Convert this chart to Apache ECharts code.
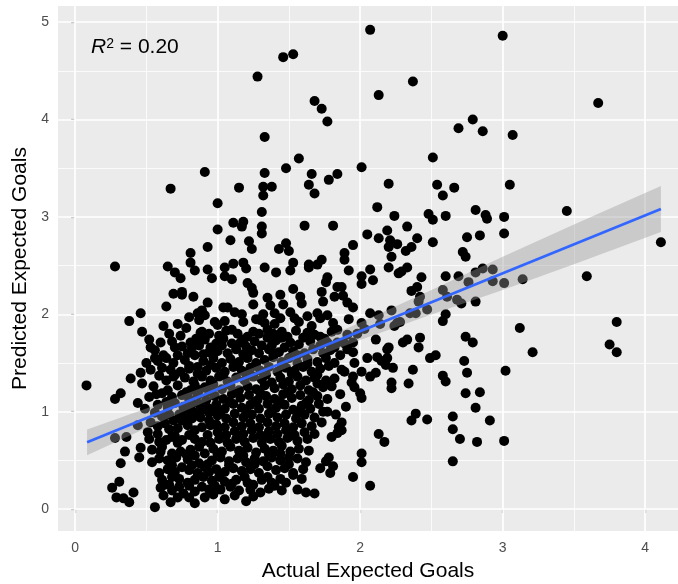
<!DOCTYPE html>
<html><head><meta charset="utf-8">
<script src="https://cdn.jsdelivr.net/npm/echarts@6/dist/echarts.min.js"></script>
<style>html,body{margin:0;padding:0;background:#fff}#c{width:678px;height:584px}</style>
</head><body><div id="c"></div>
<script>
// axis ticks
const xTicks = [0, 1, 2, 3, 4];
const yTicks = [0, 1, 2, 3, 4, 5];
const xMinor = [0.5, 1.5, 2.5, 3.5];
const yMinor = [0.5, 1.5, 2.5, 3.5, 4.5];

// [actual xG, predicted xG]
const pointsUpper = [
[2.07,4.92],[3.00,4.86],[1.53,4.67],[1.46,4.64],[1.28,4.44],[2.37,4.39],[2.13,4.25],[1.68,4.19],[1.73,4.11],[1.77,3.98],[2.79,4.00],[2.69,3.91],[2.86,3.88],[3.67,4.17],[3.07,3.84],[1.33,3.82],
[2.01,3.51],[2.51,3.61],[2.20,3.34],[2.54,3.33],[2.58,3.22],[2.66,3.30],[3.05,3.33],[2.12,3.10],[2.24,3.01],[2.48,3.03],[2.51,2.97],[2.60,3.01],[2.81,3.07],[2.88,3.02],[2.89,2.98],[3.01,3.00],[2.33,2.90],[2.19,2.86],[2.05,2.82],[2.13,2.78],[2.21,2.76],[2.26,2.72],[2.20,2.69],[2.22,2.59],[2.40,2.78],[2.36,2.69],[2.32,2.65],[2.51,2.74],[2.75,2.79],[2.84,2.81],[3.01,2.83],[1.95,2.71],[1.89,2.63],[1.89,2.56],[2.72,2.64],[2.74,2.59],
[3.45,3.06],[4.11,2.74],
[0.91,3.46],[1.33,3.45],[1.48,3.50],[1.57,3.60],[1.66,3.44],[1.78,3.38],[1.84,3.44],[1.15,3.30],[1.32,3.31],[1.38,3.31],[1.32,3.22],[1.64,3.33],[1.68,3.24],[1.00,3.14],[1.31,3.05],[1.11,2.94],[1.18,2.95],[1.17,2.90],[1.00,2.87],[1.31,2.90],[1.31,2.83],[1.61,2.91],[1.81,2.91],[1.09,2.76],[1.22,2.75],[1.24,2.67],[0.93,2.69],[1.43,2.67],[1.48,2.73],[1.50,2.65],[1.73,2.56],[1.70,2.51],[1.64,2.51],[1.53,2.53],
[0.67,3.29],[0.28,2.49],[0.65,2.49],[0.81,2.63],[0.81,2.53]
];
const pointsMiddle = [
[1.92,2.45],[2.07,2.46],[2.09,2.35],[2.01,2.39],[2.01,2.31],[2.20,2.48],[2.33,2.48],[2.29,2.44],[2.27,2.42],[2.43,2.38],[2.60,2.39],[2.69,2.39],[2.81,2.43],[2.86,2.47],[2.93,2.46],[2.76,2.33],[2.93,2.34],[3.01,2.32],[1.87,2.28],[1.88,2.19],[2.40,2.28],[2.36,2.24],[2.42,2.18],[2.41,2.13],[2.58,2.25],[2.61,2.18],[2.68,2.15],[2.71,2.11],[2.81,2.13],[1.91,2.12],[1.95,2.07],[2.22,2.04],[2.47,2.05],[2.07,2.01],[2.13,1.99],[2.14,1.90],[2.35,2.01],[2.39,2.01],[2.60,2.00],[2.58,1.93],[2.01,1.91],[2.26,1.91],[2.28,1.92],[2.24,1.88],[1.95,1.71],[1.89,1.70],[2.11,1.74],[2.20,1.66],[2.30,1.71],[2.33,1.74],[2.42,1.76],[2.41,1.66],[2.74,1.77],[2.79,1.71],
[3.14,2.36],[3.59,2.39],[3.12,1.86],[3.80,1.92],[3.21,1.61],[3.75,1.69],[3.80,1.61],
[0.93,2.46],[0.96,2.37],[1.05,2.48],[1.05,2.39],[1.10,2.36],[1.11,2.52],[1.18,2.53],[1.20,2.47],[1.33,2.48],[1.41,2.43],[1.51,2.45],[1.64,2.48],[1.77,2.38],[1.76,2.33],[1.21,2.32],[1.24,2.27],[1.25,2.22],[1.53,2.26],[1.84,2.28],[1.82,2.18],[1.44,2.20],[1.58,2.18],[1.59,2.11],[1.73,2.23],[1.74,2.13],[1.35,2.17],[1.37,2.09],[1.25,2.10],[1.46,2.10],[0.93,2.12],[0.89,2.04],[0.91,1.99],[1.04,2.07],[1.07,2.07],[1.12,2.02],[1.17,2.00],[1.18,1.92],[1.32,2.00],[1.30,1.94],[1.33,1.91],[1.40,2.01],[1.44,1.96],[1.51,2.02],[1.54,1.96],[1.63,1.98],[1.70,2.01],[1.72,1.96],[1.77,1.99],[1.81,1.91],[1.84,1.84],[0.98,1.92],[1.00,1.89],[1.10,1.84],[1.25,1.82],[1.21,1.77],[1.35,1.84],[1.35,1.76],[1.45,1.82],[1.49,1.77],[1.51,1.71],[1.60,1.76],[1.72,1.77],[1.77,1.71],[0.89,1.82],[0.91,1.74],[0.95,1.66],[1.03,1.68],[1.10,1.70],[1.16,1.71],[1.84,1.71],[1.91,1.79],
[0.70,2.43],[0.74,2.37],[0.84,2.45],[0.69,2.21],[0.75,2.23],[0.75,2.20],[0.83,2.18],[0.64,2.08],[0.46,2.01],[0.38,1.93],[0.80,1.97],[0.86,2.01],[0.87,1.94],[0.88,1.81],[0.52,1.74],[0.60,1.71],[0.53,1.66],[0.70,1.66],[0.81,1.71],[0.82,1.66]
];
const pointsLower = [
[1.95,1.61],[2.19,1.64],[2.12,1.56],[2.19,1.55],[2.18,1.48],[2.23,1.45],[2.49,1.55],[2.53,1.58],[2.37,1.43],[2.73,1.52],[2.75,1.40],[3.02,1.42],[1.87,1.43],[1.89,1.41],[1.96,1.50],[2.01,1.41],[2.11,1.40],[2.07,1.36],[2.58,1.37],[2.60,1.31],[2.34,1.29],[1.94,1.30],[1.96,1.25],[2.00,1.19],[2.01,1.14],[2.22,1.30],[2.22,1.24],[2.74,1.19],[2.84,1.20],[2.81,1.04],[2.39,0.98],[2.36,0.91],[2.47,0.92],[2.65,0.95],[2.91,0.91],[1.87,0.89],[2.13,0.77],[2.17,0.69],[2.65,0.82],[2.70,0.72],[2.82,0.69],[3.01,0.70],[2.01,0.57],[2.01,0.48],[2.65,0.49],[1.95,0.33],[2.07,0.24],
[0.08,1.27],[0.39,1.34],[0.47,1.29],[0.32,1.19],[0.28,1.13],[0.44,1.09],[0.53,1.43],[0.59,1.37],[0.67,1.43],[0.69,1.36],[0.80,1.44],[0.56,1.63],[0.56,1.55],[0.72,1.58],[0.79,1.60],[0.84,1.58],[0.87,1.68],[0.94,1.61],[0.61,1.19],[0.65,1.22],[0.68,1.15],[0.75,1.17],[0.81,1.22],[0.84,1.27],[0.87,1.22],[0.91,1.25],[0.56,0.99],[0.53,0.89],[0.44,0.86],[0.65,1.04],[0.66,0.97],[0.69,0.91],[0.70,1.09],[0.76,1.05],[0.81,1.04],[0.84,0.99],[0.89,1.02],[0.94,0.99],[0.28,0.73],[0.36,0.74],[0.35,0.59],[0.46,0.63],[0.45,0.53],[0.32,0.47],[0.54,0.48],[0.59,0.69],[0.61,0.64],[0.60,0.59],[0.68,0.74],[0.72,0.68],[0.75,0.71],[0.80,0.76],[0.68,0.57],[0.74,0.59],[0.81,0.61],[0.87,0.64],[0.91,0.57],[0.95,0.68],[0.59,0.37],[0.61,0.30],[0.68,0.33],[0.63,0.25],[0.73,0.23],[0.79,0.27],[0.84,0.30],[0.26,0.22],[0.31,0.28],[0.29,0.12],[0.34,0.11],[0.38,0.07],[0.41,0.17],[0.56,0.02],[0.67,0.07],[0.84,0.06],[0.91,0.12],[0.94,0.20],[0.89,0.23],[0.75,0.43],[0.82,0.45],[0.87,0.47],[0.91,0.43],[0.94,0.38],[0.66,0.82],[0.72,0.83],[0.79,0.86],[0.84,0.81],[0.89,0.84],[0.95,0.86],[0.75,0.91],[0.82,0.93],[0.88,0.94],[0.94,0.91],
[1.77,1.00],[1.87,0.81],[1.84,0.78],[1.80,0.74],[1.85,0.84],[1.78,0.53],[1.76,0.49],[1.72,0.42],[1.81,0.44],[1.79,0.37],[1.50,0.46],[1.53,0.37],[1.59,0.31],[1.56,0.20],[1.62,0.17],[1.68,0.16],[1.51,0.59],[1.45,0.65],[1.44,0.57],[1.76,1.32],[1.74,1.25],
[0.76,0.16],[0.60,0.22],[1.02,0.20],[1.09,0.23],[1.05,0.28],[1.23,0.20],[1.25,0.25],[1.38,0.27],[1.35,0.33],[1.53,0.35]
];
const pointsCore = [
[0.62,1.88],[0.72,1.90],[0.78,1.86],[1.05,1.93],[1.27,1.95],[1.40,1.90],[1.57,1.92],[1.66,1.88],[1.92,1.95],
[0.47,1.82],[0.66,1.80],[0.74,1.78],[0.94,1.80],[1.01,1.78],[1.06,1.83],[1.14,1.80],[1.29,1.80],[1.39,1.80],[1.55,1.83],[1.63,1.81],[1.68,1.79],[1.80,1.82],[1.98,1.80],[2.03,1.85],
[0.68,1.72],[0.99,1.70],[1.04,1.75],[1.26,1.72],[1.31,1.68],[1.41,1.73],[1.57,1.69],[1.65,1.72],[1.82,1.66],
[1.00,1.62],[1.07,1.60],[1.13,1.64],[1.18,1.59],[1.24,1.63],[1.29,1.60],[1.36,1.64],[1.43,1.61],[1.47,1.66],[1.53,1.62],[1.61,1.60],[1.67,1.64],[1.74,1.60],[1.79,1.63],[1.86,1.58],[1.91,1.64],
[0.50,1.50],[0.58,1.52],[0.64,1.55],[0.69,1.50],[0.77,1.53],[0.90,1.52],[0.97,1.55],[1.03,1.50],[1.09,1.54],[1.15,1.51],[1.21,1.55],[1.27,1.50],[1.33,1.53],[1.39,1.56],[1.45,1.51],[1.50,1.55],[1.56,1.50],[1.63,1.54],[1.70,1.51],[1.76,1.55],[1.82,1.50],[2.05,1.55],[2.15,1.52],
[0.46,1.40],[0.61,1.45],[0.74,1.41],[0.86,1.46],[0.92,1.42],[0.99,1.45],[1.05,1.41],[1.11,1.46],[1.17,1.42],[1.23,1.45],[1.30,1.42],[1.36,1.46],[1.42,1.41],[1.48,1.45],[1.54,1.42],[1.60,1.46],[1.66,1.41],[1.72,1.44],[1.78,1.47],
[0.64,1.32],[0.77,1.35],[0.83,1.31],[0.89,1.36],[0.95,1.32],[1.01,1.36],[1.07,1.31],[1.13,1.35],[1.19,1.32],[1.25,1.36],[1.31,1.33],[1.38,1.30],[1.44,1.35],[1.50,1.31],[1.56,1.36],[1.62,1.32],[1.68,1.35],[1.82,1.34],[1.95,1.36],
[0.55,1.26],[0.72,1.27],[0.97,1.28],[1.03,1.23],[1.09,1.27],[1.15,1.22],[1.21,1.26],[1.27,1.23],[1.33,1.27],[1.40,1.24],[1.46,1.28],[1.52,1.23],[1.58,1.27],[1.64,1.22],[1.70,1.29],[1.80,1.26],
[0.52,1.15],[0.57,1.18],[0.80,1.13],[0.86,1.17],[0.92,1.12],[0.98,1.16],[1.04,1.13],[1.10,1.18],[1.16,1.14],[1.22,1.17],[1.28,1.12],[1.34,1.16],[1.40,1.13],[1.46,1.18],[1.52,1.14],[1.58,1.17],[1.64,1.12],[1.70,1.16],[1.77,1.13],[1.86,1.18],
[0.49,1.03],[0.58,1.07],[0.87,1.08],[0.93,1.04],[0.99,1.07],[1.05,1.03],[1.11,1.08],[1.17,1.04],[1.23,1.07],[1.29,1.03],[1.35,1.08],[1.41,1.04],[1.47,1.07],[1.53,1.02],[1.59,1.06],[1.65,1.03],[1.71,1.08],[1.90,1.05],
[0.61,0.95],[0.73,0.97],[0.79,0.95],[1.00,0.96],[1.06,0.93],[1.12,0.98],[1.18,0.94],[1.24,0.97],[1.30,0.93],[1.36,0.98],[1.42,0.94],[1.48,0.97],[1.55,0.93],[1.61,0.97],[1.68,0.94],[1.83,0.97],
[0.58,0.85],[0.63,0.88],[0.99,0.87],[1.05,0.84],[1.11,0.89],[1.17,0.85],[1.23,0.88],[1.29,0.84],[1.35,0.89],[1.41,0.85],[1.47,0.88],[1.53,0.84],[1.59,0.88],[1.66,0.85],[1.73,0.89],
[0.51,0.79],[0.58,0.77],[1.00,0.79],[1.06,0.76],[1.12,0.80],[1.18,0.77],[1.24,0.81],[1.30,0.76],[1.36,0.80],[1.42,0.77],[1.48,0.81],[1.54,0.76],[1.61,0.79],[1.68,0.77],
[0.52,0.72],[0.64,0.71],[0.84,0.72],[0.89,0.69],[1.01,0.72],[1.07,0.68],[1.13,0.72],[1.19,0.69],[1.25,0.73],[1.31,0.68],[1.37,0.72],[1.43,0.69],[1.49,0.73],[1.56,0.70],[1.63,0.72],
[0.54,0.61],[0.97,0.62],[1.03,0.59],[1.09,0.64],[1.15,0.60],[1.21,0.63],[1.27,0.58],[1.33,0.62],[1.39,0.60],[1.57,0.62],[1.64,0.60],
[0.59,0.52],[0.65,0.50],[0.71,0.53],[0.79,0.51],[0.96,0.50],[1.02,0.53],[1.08,0.49],[1.14,0.52],[1.20,0.48],[1.26,0.52],[1.32,0.49],[1.38,0.53],[1.44,0.50],[1.56,0.52],
[0.65,0.41],[0.70,0.38],[0.80,0.40],[0.86,0.37],[0.99,0.41],[1.05,0.38],[1.11,0.42],[1.17,0.39],[1.23,0.41],[1.29,0.37],[1.41,0.40],[1.47,0.42],[1.60,0.41],
[0.73,0.31],[0.90,0.33],[0.96,0.29],[1.01,0.33],[1.13,0.30],[1.19,0.33],[1.31,0.30],[1.44,0.31],[1.48,0.27],
[0.68,0.19],[0.84,0.18],[1.15,0.19],[1.30,0.17],[1.36,0.21],[1.45,0.19],
[0.72,0.12],[1.05,0.10],[1.20,0.08]
];
// extra estimated marks where the cloud is solid black
const pointsDense = [
[0.85,1.75],[1.18,1.74],[1.45,1.76],[1.75,1.75],
[0.75,1.67],[1.20,1.67],[1.38,1.68],[1.72,1.68],
[0.62,1.58],[0.90,1.59],[1.21,1.59],[1.39,1.60],[1.56,1.58],
[0.80,1.47],[0.95,1.48],[1.14,1.47],[1.27,1.47],[1.45,1.47],[1.63,1.49],
[0.70,1.38],[0.86,1.39],[1.04,1.38],[1.20,1.39],[1.34,1.38],[1.52,1.39],[1.70,1.38],
[0.78,1.20],[0.94,1.21],[1.12,1.20],[1.30,1.19],[1.49,1.20],[1.67,1.20],
[0.64,1.10],[0.82,1.09],[1.08,1.10],[1.26,1.10],[1.44,1.10],[1.62,1.09],
[0.76,1.00],[0.96,1.01],[1.02,1.00],[1.20,1.01],[1.38,1.00],[1.56,0.99],[1.74,1.00],
[0.70,0.75],[0.93,0.76],[1.15,0.75],[1.33,0.74],[1.51,0.75],
[0.78,0.56],[0.84,0.55],[1.00,0.56],[1.18,0.55],[1.36,0.56],[1.50,0.53],
[0.68,0.45],[0.93,0.46],[1.08,0.45],[1.26,0.46],[1.35,0.44],[1.62,0.48],
[0.66,0.25],[0.80,0.24],[0.98,0.24],[1.10,0.26],[1.21,0.27],[1.40,0.24],
[0.62,0.14],[0.80,0.12],[0.97,0.15],[1.12,0.14],[1.25,0.13]
];

// linear fit and its confidence band
const fitX = [0.084, 4.11];
const fitY = [0.685, 3.08];
const bandX = [0.084, 0.5, 1.0, 1.5, 2.0, 2.5, 3.0, 3.5, 4.11];
const bandLower = [0.553, 0.833, 1.155, 1.458, 1.735, 1.998, 2.250, 2.513, 2.844];
const bandUpper = [0.817, 1.033, 1.305, 1.598, 1.915, 2.248, 2.590, 2.923, 3.316];
const r2Text = '0.20';

const FONT = 'Liberation Sans, Arial, sans-serif';
const allPoints = pointsUpper.concat(pointsMiddle, pointsLower, pointsCore, pointsDense);
const fitData = fitX.map((x, i) => [x, fitY[i]]);

const gridLines = []
  .concat(xMinor.map(v => ({ xAxis: v, lineStyle: { width: 0.8 } })))
  .concat(yMinor.map(v => ({ yAxis: v, lineStyle: { width: 0.8 } })))
  .concat(xTicks.map(v => ({ xAxis: v, lineStyle: { width: 1.7 } })))
  .concat(yTicks.map(v => ({ yAxis: v, lineStyle: { width: 1.7 } })));

const chart = echarts.init(document.getElementById('c'), null, { renderer: 'canvas' });
chart.setOption({
  animation: false,
  backgroundColor: '#ffffff',
  grid: { left: 58, right: 0, top: 6, bottom: 53, show: true, backgroundColor: '#EBEBEB', borderWidth: 0, containLabel: false, outerBoundsMode: 'none' },
  xAxis: {
    type: 'value', min: -0.12, max: 4.23,
    name: 'Actual Expected Goals', nameLocation: 'middle', nameGap: 30,
    nameTextStyle: { fontFamily: FONT, fontSize: 21, color: '#000' },
    axisLine: { show: false },
    axisTick: { show: true, length: 4, customValues: xTicks, lineStyle: { color: '#333333', width: 1.1 } },
    axisLabel: { customValues: xTicks, color: '#4D4D4D', fontSize: 14, fontFamily: FONT, margin: 10 },
    splitLine: { show: false }
  },
  yAxis: {
    type: 'value', min: -0.225, max: 5.165,
    name: 'Predicted Expected Goals', nameLocation: 'middle', nameGap: 21,
    nameTextStyle: { fontFamily: FONT, fontSize: 21, color: '#000' },
    axisLine: { show: false },
    axisTick: { show: true, length: 4, customValues: yTicks, lineStyle: { color: '#333333', width: 1.1 } },
    axisLabel: { customValues: yTicks, color: '#4D4D4D', fontSize: 14, fontFamily: FONT, margin: 9 },
    splitLine: { show: false }
  },
  graphic: [{
    type: 'text', left: 91, top: 37, z: 100,
    style: {
      text: '{i|R}{s|2}{n| = ' + r2Text + '}',
      rich: {
        i: { fontStyle: 'italic', fontSize: 21, fontFamily: FONT, fill: '#000' },
        s: { fontSize: 14, fontFamily: FONT, fill: '#000', verticalAlign: 'top' },
        n: { fontSize: 21, fontFamily: FONT, fill: '#000' }
      }
    }
  }],
  series: [
    {
      type: 'line', data: [], z: 1, silent: true,
      markLine: {
        silent: true, z: 1, symbol: ['none', 'none'], label: { show: false },
        lineStyle: { color: '#ffffff', type: 'solid', opacity: 1 },
        emphasis: { disabled: true },
        data: gridLines
      }
    },
    {
      type: 'scatter', data: allPoints, symbolSize: 10, z: 2, silent: true,
      itemStyle: { color: '#000000', opacity: 1 }
    },
    {
      type: 'custom', z: 3, silent: true, clip: true,
      data: [[bandX[0], bandLower[0]]],
      renderItem: function (params, api) {
        const pts = [];
        for (let i = 0; i < bandX.length; i++) pts.push(api.coord([bandX[i], bandUpper[i]]));
        for (let i = bandX.length - 1; i >= 0; i--) pts.push(api.coord([bandX[i], bandLower[i]]));
        return { type: 'polygon', shape: { points: pts }, style: { fill: '#999999', opacity: 0.4 } };
      }
    },
    {
      type: 'line', data: fitData, z: 4, silent: true, symbol: 'none',
      lineStyle: { color: '#3366FF', width: 2.7 }
    }
  ]
});
</script></body></html>
